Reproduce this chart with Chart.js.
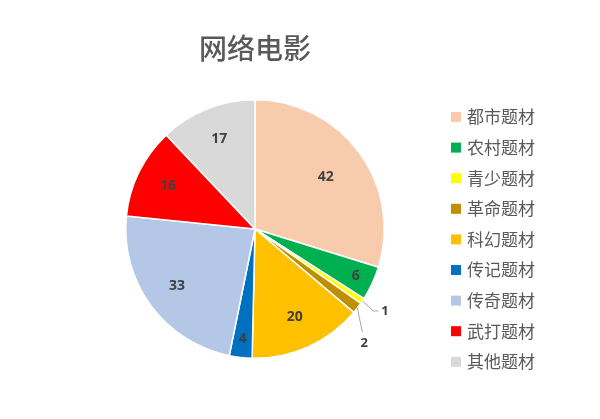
<!DOCTYPE html>
<html>
<head>
<meta charset="utf-8">
<script src="https://cdn.jsdelivr.net/npm/chart.js@4"></script>
<style>
  html, body { margin: 0; padding: 0; background: #fff; }
  #wrap { width: 600px; height: 419px; }
</style>
</head>
<body>
<div id="wrap"><canvas id="myChart"></canvas></div>
<script>
// data
const chartTitle = '网络电影'
const categories = ['都市题材', '农村题材', '青少题材', '革命题材', '科幻题材', '传记题材', '传奇题材', '武打题材', '其他题材']
const counts = [42, 6, 1, 2, 20, 4, 33, 16, 17]
const sliceColors = ['#F8CBAD', '#00B050', '#FFFF00', '#BF8F00', '#FFC000', '#0070C0', '#B4C7E7', '#FF0000', '#D9D9D9']

const cjk = '"Noto Sans CJK SC", "Noto Sans", sans-serif'

// title, legend and value labels drawn by hand so they sit like the original
const decorations = {
    id: 'decorations',
    afterDatasetsDraw(chart) {
        const ctx = chart.ctx
        const meta = chart.getDatasetMeta(0)
        const total = counts.reduce((a, b) => a + b, 0)

        ctx.save()
        ctx.textAlign = 'center'
        ctx.textBaseline = 'middle'
        meta.data.forEach((arc, i) => {
            const share = counts[i] / total
            const mid = (arc.startAngle + arc.endAngle) / 2
            const R = arc.outerRadius
            if (share < 0.02) {
                // small slices: label outside with a leader line
                const ex = arc.x + Math.cos(mid) * R
                const ey = arc.y + Math.sin(mid) * R
                ctx.strokeStyle = '#A6A6A6'
                ctx.lineWidth = 1
                ctx.fillStyle = '#404040'
                ctx.font = 'bold 13px "Open Sans", sans-serif'
                ctx.beginPath()
                if (i == 2) {
                    ctx.moveTo(ex, ey)
                    ctx.lineTo(ex + 11, ey + 10)
                    ctx.lineTo(ex + 16, ey + 10)
                    ctx.stroke()
                    ctx.textAlign = 'left'
                    ctx.fillText(counts[i], ex + 19, ey + 10)
                } else {
                    ctx.moveTo(ex, ey)
                    ctx.lineTo(ex + 5, ey + 24)
                    ctx.stroke()
                    ctx.textAlign = 'center'
                    ctx.fillText(counts[i], ex + 7, ey + 35)
                }
                return
            }
            // label distance from centre, roughly like excel's best fit
            let f = 0.75
            if (share > 0.25) f = 0.68
            if (share < 0.05) f = 0.86
            const x = arc.x + Math.cos(mid) * R * f
            const y = arc.y + Math.sin(mid) * R * f
            ctx.textAlign = 'center'
            ctx.fillStyle = '#404040'
            ctx.font = 'bold 14px "Open Sans", sans-serif'
            ctx.fillText(counts[i], x, y)
        })

        // title
        ctx.textAlign = 'center'
        ctx.fillStyle = '#595959'
        ctx.font = '500 28px ' + cjk
        ctx.fillText(chartTitle, 255, 48)

        // legend
        ctx.textAlign = 'left'
        ctx.font = '17px ' + cjk
        categories.forEach((name, i) => {
            const y = 117 + i * 30.6
            ctx.fillStyle = sliceColors[i]
            ctx.fillRect(451, y - 5, 10, 10)
            ctx.fillStyle = '#595959'
            ctx.fillText(name, 467, y)
        })
        ctx.restore()
    }
}

const ctx = document.getElementById('myChart')

const myChart = new Chart(ctx, {
    type: 'pie',
    data: {
        labels: categories,
        datasets: [{
            data: counts,
            backgroundColor: sliceColors,
            borderColor: '#ffffff',
            borderWidth: 1.5
        }]
    },
    options: {
        responsive: true,
        maintainAspectRatio: false,
        animation: false,
        layout: {
            padding: { left: 125, right: 215, top: 99, bottom: 60 }
        },
        plugins: {
            legend: { display: false },
            title: { display: false },
            tooltip: { enabled: false }
        }
    },
    plugins: [decorations]
})
</script>
</body>
</html>
